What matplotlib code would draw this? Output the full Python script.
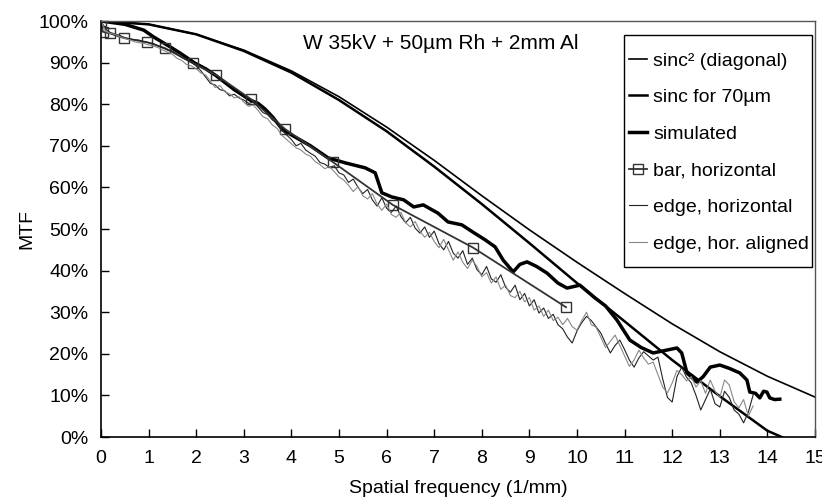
import matplotlib
matplotlib.use("Agg")
import matplotlib.pyplot as plt
from matplotlib.patches import Rectangle
from matplotlib.ticker import FuncFormatter

plt.rcParams["font.family"] = ["Liberation Sans", "DejaVu Sans"]
plt.rcParams["font.size"] = 14

# --- data (MTF in %) ---
freq_smooth = [0, 1, 2, 3, 4, 5, 6, 7, 8, 9, 10, 11, 12, 13, 14, 15]
sinc2_diag = [100, 99.2, 96.8, 93.0, 88.0, 81.8, 74.5, 66.5, 58.0, 49.8,
              42.0, 34.5, 27.2, 20.5, 14.6, 9.6]

freq_sinc70 = [0, 1, 2, 3, 4, 5, 6, 7, 8, 9, 10, 11, 12, 13, 14, 14.3, 14.5]
sinc70 = [100, 99.2, 96.8, 92.8, 87.6, 81.0, 73.5, 65.0, 56.0, 46.6,
          37.0, 27.8, 18.5, 9.8, 1.5, 0.0, -1.2]

freq_sim = [0, 0.5, 0.9, 1.1, 1.45, 1.66, 1.97, 2.2, 2.4, 2.8, 3.13, 3.3,
            3.45, 3.6, 3.82, 4.08, 4.4, 4.77, 5.13, 5.55, 5.76, 5.9, 6.11,
            6.36, 6.57, 6.77, 7.08, 7.29, 7.58, 7.82, 8.07, 8.28, 8.45, 8.66,
            8.8, 8.95, 9.15, 9.37, 9.6, 9.79, 10.06, 10.38, 10.6, 10.84, 11.11,
            11.35, 11.6, 11.89, 12.1, 12.2, 12.31, 12.52, 12.65, 12.8, 13.0,
            13.2, 13.42, 13.57, 13.63, 13.75, 13.84, 13.92, 13.99, 14.05,
            14.15, 14.26]
simulated = [100, 99.2, 97.8, 96.2, 93.8, 92.3, 89.9, 88.5, 87.0, 83.5, 81.0,
             80.2, 78.8, 77.0, 73.8, 72.1, 70.0, 67.1, 65.9, 64.7, 63.5, 58.7,
             57.7, 57.0, 55.3, 55.8, 53.8, 51.7, 51.0, 49.2, 47.4, 45.7, 42.5,
             39.7, 41.5, 42.1, 41.0, 39.4, 37.0, 35.8, 36.5, 33.4, 31.5, 28.1,
             23.3, 21.5, 20.2, 20.9, 21.4, 20.2, 15.4, 13.2, 14.5, 16.8, 17.3,
             16.5, 15.4, 13.7, 10.8, 10.5, 9.4, 11.0, 10.8, 9.4, 9.0, 9.1]

freq_bar = [0, 0.04, 0.19, 0.48, 0.97, 1.34, 1.93, 2.42, 3.15, 3.87, 4.87,
            6.13, 7.82, 9.77]
bar_horizontal = [100, 97.4, 97.0, 95.9, 94.9, 93.5, 89.9, 87.0, 81.2, 74.0,
                  66.1, 55.8, 45.5, 31.2]

freq_edge = [i / 10 for i in range(138)]
edge_horizontal = [
    100, 98.0, 97.2, 96.9, 96.5, 96.0, 95.7, 95.5, 95.4, 95.0,
    94.8, 94.6, 94.0, 93.5, 93.0, 92.8, 92.0, 91.2, 90.6, 90.0,
    89.2, 88.0, 86.5, 85.0, 84.6, 83.5, 83.2, 82.0, 82.4, 81.5,
    81.0, 80.2, 80.5, 79.3, 78.0, 77.5, 76.2, 75.5, 73.8, 72.6,
    71.5, 70.0, 70.6, 69.0, 68.2, 67.5, 66.0, 65.6, 64.8, 65.2,
    63.5, 63.0, 61.2, 62.0, 60.0, 58.5, 59.5, 57.0, 55.5, 57.5,
    55.0, 54.0, 55.5, 53.0, 51.5, 52.8, 50.2, 49.0, 50.5, 48.0,
    49.5, 46.5, 45.0, 47.0, 44.2, 43.0, 44.8, 41.5, 43.0, 40.2,
    39.0, 41.0, 38.0, 37.2, 39.0, 36.0, 34.8, 36.5, 33.0, 34.5,
    31.5, 33.0, 29.8, 31.0, 28.5, 29.5, 27.0, 26.0, 24.0, 22.6,
    25.5, 27.5, 29.0, 28.0, 26.5, 25.0, 22.5, 20.2, 22.0, 23.3,
    21.0, 18.5, 16.8, 19.0, 20.5, 19.5, 18.5, 19.2, 14.0, 9.5,
    8.4, 14.5, 16.8, 14.4, 13.0, 10.0, 6.5, 9.0, 11.5, 8.0,
    7.2, 11.0, 9.5, 6.5, 5.5, 3.4, 6.0, 10.1]
edge_hor_aligned = [
    100, 97.5, 97.0, 96.8, 96.2, 95.8, 95.5, 95.0, 94.8, 94.6,
    94.3, 94.0, 93.6, 93.0, 92.5, 92.0, 91.0, 90.5, 89.5, 89.2,
    88.5, 87.5, 87.0, 85.5, 84.0, 84.5, 83.0, 82.5, 81.5, 81.8,
    80.5, 79.5, 79.8, 78.5, 77.0, 76.5, 75.0, 74.2, 72.5, 71.5,
    70.5, 69.5, 69.0, 68.0, 67.5, 66.2, 65.5, 64.5, 65.0, 63.8,
    62.5, 61.8, 60.5, 59.0, 60.2, 58.0, 57.2, 58.5, 56.0, 54.5,
    56.0, 53.5, 52.8, 54.0, 51.5, 50.5, 51.8, 49.5, 48.0, 49.2,
    47.0, 45.5, 47.5, 45.0, 42.5, 44.5, 42.0, 40.5, 42.5, 41.0,
    38.5, 39.5, 37.0, 38.5, 35.5, 36.5, 34.0, 33.5, 35.0, 32.5,
    33.5, 30.5, 31.5, 29.0, 30.5, 28.0, 28.8, 27.0, 28.5, 26.5,
    25.7, 28.0, 30.0, 27.0, 26.4, 24.0, 21.5, 23.0, 24.5, 22.0,
    19.5, 17.0, 18.5, 20.9, 19.0, 17.5, 18.0, 15.0, 12.0, 10.6,
    13.0, 16.0, 15.0, 13.5, 14.5, 12.0, 13.5, 10.5, 13.7, 11.0,
    9.5, 13.7, 12.5, 8.5, 7.0, 9.0, 5.0, 7.5]

x_ticks = list(range(16))
y_ticks = list(range(0, 101, 10))

W, H = 822, 498
fig = plt.figure(figsize=(W / 100, H / 100), dpi=100)
ax = fig.add_axes([101 / W, 1 - 437 / H, 714 / W, 416 / H])

ax.plot(freq_smooth, sinc2_diag, color="black", lw=1.2, label="sinc² (diagonal)")
ax.plot(freq_sinc70, sinc70, color="black", lw=1.8, label="sinc for 70µm")
ax.plot(freq_sim, simulated, color="black", lw=2.5, label="simulated")
ax.plot(freq_bar, bar_horizontal, color="#333333", lw=1.3, marker="s",
        markersize=7, markerfacecolor="none", markeredgecolor="#333333",
        markeredgewidth=1.0, label="bar, horizontal")
ax.plot(freq_edge, edge_horizontal, color="#222222", lw=0.8, label="edge, horizontal")
ax.plot(freq_edge, edge_hor_aligned, color="#888888", lw=0.8, label="edge, hor. aligned")

ax.set_xlim(0, 15)
ax.set_ylim(0, 100)
ax.set_xticks(x_ticks)
ax.set_yticks(y_ticks)
ax.yaxis.set_major_formatter(FuncFormatter(lambda v, p: f"{v:.0f}%"))
ax.tick_params(direction="in", length=6, width=1, pad=9, labelsize=14)

for side in ("left", "bottom"):
    ax.spines[side].set_color("black")
    ax.spines[side].set_linewidth(1.2)
for side in ("top", "right"):
    ax.spines[side].set_color("#555555")
    ax.spines[side].set_linewidth(1.0)

ax.set_xlabel("Spatial frequency (1/mm)", fontsize=14, labelpad=10)
ax.set_ylabel("MTF", fontsize=14, labelpad=2)

ax.text(0.283, 0.947, "W 35kV + 50µm Rh + 2mm Al", transform=ax.transAxes,
        fontsize=15, ha="left", va="center")

# legend box (white, thin black frame) with the entries drawn frameless on top
box = Rectangle((624 / W, 1 - 267 / H), 188 / W, 232 / H, transform=fig.transFigure,
                facecolor="white", edgecolor="black", lw=1.0, zorder=4, clip_on=False)
ax.add_patch(box)
leg = ax.legend(loc="upper right", bbox_to_anchor=(809 / W, 1 - 52 / H),
                bbox_transform=fig.transFigure, borderaxespad=0, borderpad=0,
                frameon=False, handlelength=0.95, handletextpad=0.3,
                labelspacing=0.98, fontsize=14)
leg.set_zorder(5)

fig.savefig("out.png", dpi=100)
